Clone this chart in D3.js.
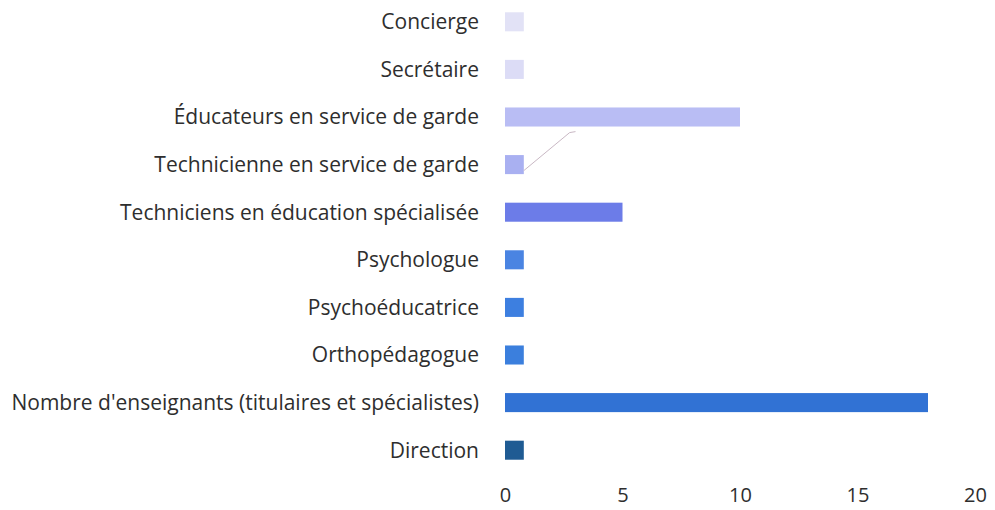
<!DOCTYPE html>
<html>
<head>
<meta charset="utf-8">
<script src="https://cdn.jsdelivr.net/npm/d3@7"></script>
<style>
  body { margin: 0; background: #fff; }
  text { font-family: "Open Sans", sans-serif; fill: #2e2e2e; }
</style>
</head>
<body>
<script>
// categories top to bottom
const categories = ["Concierge", "Secrétaire", "Éducateurs en service de garde",
  "Technicienne en service de garde", "Techniciens en éducation spécialisée",
  "Psychologue", "Psychoéducatrice", "Orthopédagogue",
  "Nombre d'enseignants (titulaires et spécialistes)", "Direction"];
const values = [0.8, 0.8, 10, 0.8, 5, 0.8, 0.8, 0.8, 18, 0.8];
const colors = ["#e2e2f6", "#dcdcf6", "#b9bdf4", "#a9b0f1", "#6c7ce8",
  "#4a84e2", "#3d7fe0", "#3b7fdd", "#3172d4", "#1f5b93"];
const xTicks = [0, 5, 10, 15, 20];

const W = 995, H = 510;
const svg = d3.select("body").append("svg").attr("width", W).attr("height", H);

const x = d3.scaleLinear().domain([0, 20]).range([505, 975]);
const y = d3.scaleBand().domain(categories).range([-2, 474]).paddingInner(0.6).paddingOuter(0.3);

svg.selectAll("rect.bar").data(categories).join("rect")
  .attr("class", "bar")
  .attr("x", x(0))
  .attr("y", d => y(d))
  .attr("width", (d, i) => x(values[i]) - x(0))
  .attr("height", y.bandwidth())
  .attr("fill", (d, i) => colors[i]);

// category labels
svg.selectAll("text.cat").data(categories).join("text")
  .attr("class", "cat")
  .attr("x", 479)
  .attr("y", d => y(d) + y.bandwidth() / 2)
  .attr("dy", "0.35em")
  .attr("text-anchor", "end")
  .style("font-size", "21px")
  .text(d => d);

// x axis, labels only (baseline sits close to the bottom edge like the scan)
const xAxis = svg.append("g").attr("transform", "translate(0,502)")
  .call(d3.axisBottom(x).tickValues(xTicks).tickSize(0).tickPadding(0));
xAxis.select(".domain").remove();
xAxis.selectAll("text").attr("y", 0).attr("dy", 0).style("font-size", "20px")
  .style("font-family", "'Open Sans', sans-serif").attr("fill", "#2e2e2e");

// stray leader line near the technicienne bar
const t = categories[3];
const ty = y(t) + y.bandwidth() / 2;
svg.append("path")
  .attr("d", `M${x(values[3])},${ty + 6} L${x(2.75)},${ty - 32} L${x(3)},${ty - 33}`)
  .attr("fill", "none").attr("stroke", "#c9b8c4").attr("stroke-width", 1);
</script>
</body>
</html>
